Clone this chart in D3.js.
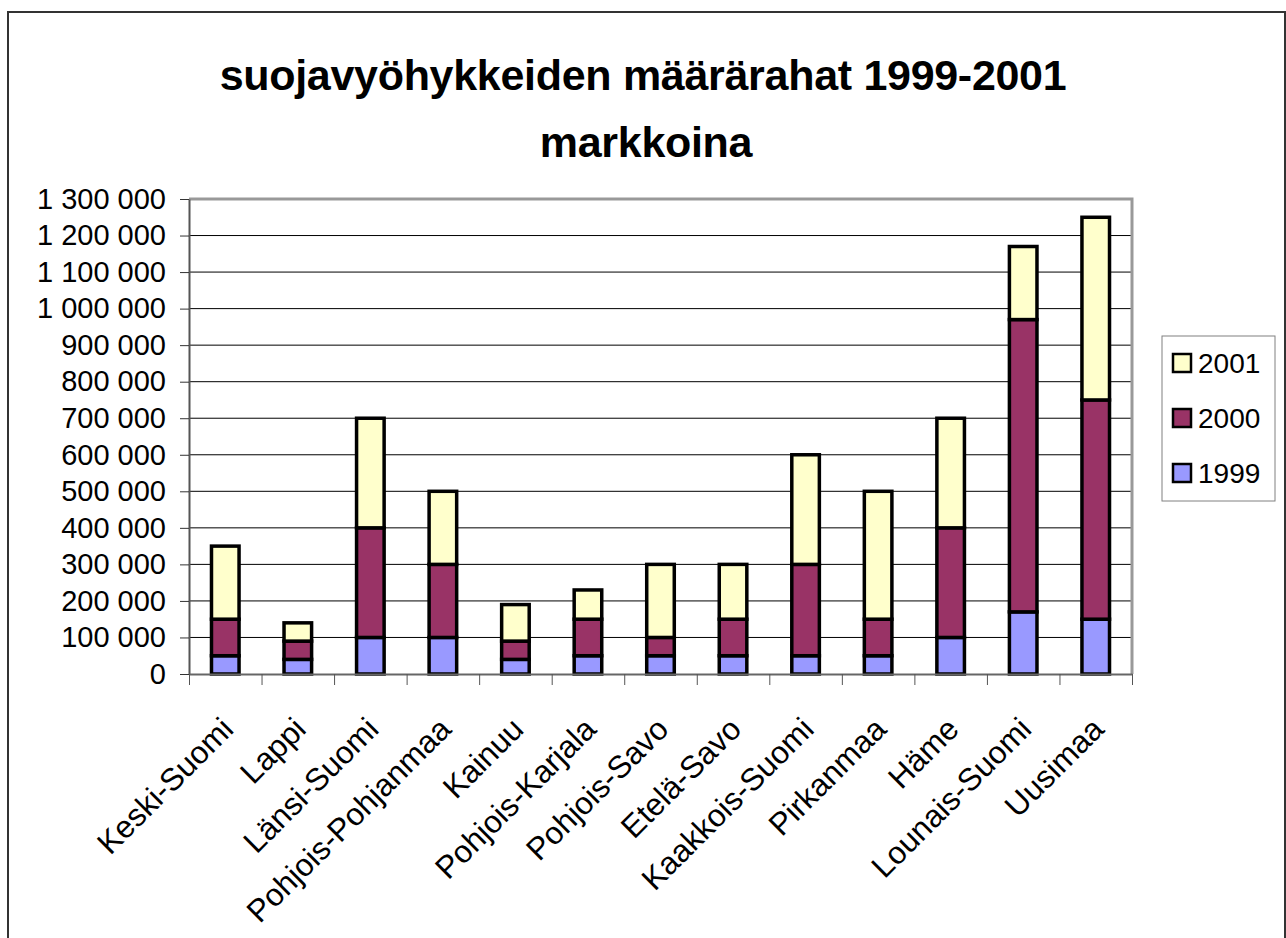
<!DOCTYPE html>
<html>
<head>
<meta charset="utf-8">
<script src="https://cdn.jsdelivr.net/npm/d3@7"></script>
<style>
  body { margin: 0; background: #fff; }
  text { font-family: "Liberation Sans", Arial, sans-serif; }
</style>
</head>
<body>
<svg id="chart"></svg>
<script>
// data
const regions = ["Keski-Suomi", "Lappi", "Länsi-Suomi", "Pohjois-Pohjanmaa", "Kainuu", "Pohjois-Karjala",
                 "Pohjois-Savo", "Etelä-Savo", "Kaakkois-Suomi", "Pirkanmaa", "Häme", "Lounais-Suomi", "Uusimaa"];
const years = ["1999", "2000", "2001"];
const v1999 = [50000, 40000, 100000, 100000, 40000, 50000, 50000, 50000, 50000, 50000, 100000, 170000, 150000];
const v2000 = [100000, 50000, 300000, 200000, 50000, 100000, 50000, 100000, 250000, 100000, 300000, 800000, 600000];
const v2001 = [200000, 50000, 300000, 200000, 100000, 80000, 200000, 150000, 300000, 350000, 300000, 200000, 500000];
const yTicks = [0, 100000, 200000, 300000, 400000, 500000, 600000, 700000, 800000, 900000,
                1000000, 1100000, 1200000, 1300000];
const colors = ["#9999FF", "#993366", "#FFFFCC"];

const width = 1286;
const height = 938;
const marginTop = 199;
const marginBottom = 264;   // y of zero line = 674
const marginLeft = 189;
const marginRight = 154;    // plot right edge = 1132

const svg = d3.select("#chart")
    .attr("width", width)
    .attr("height", height);

svg.append("rect").attr("width", width).attr("height", height).attr("fill", "#fff");

// chart area border
svg.append("rect")
    .attr("x", 8).attr("y", 12)
    .attr("width", 1277).attr("height", 940)
    .attr("fill", "none")
    .attr("stroke", "#333")
    .attr("stroke-width", 2);

// title
const title = svg.append("text")
    .attr("text-anchor", "middle")
    .attr("font-weight", "bold")
    .attr("font-size", 43)
    .attr("letter-spacing", -0.3);
title.append("tspan").attr("x", 643).attr("y", 90).text("suojavyöhykkeiden määrärahat 1999-2001");
title.append("tspan").attr("x", 646).attr("y", 157).text("markkoina");

const table = regions.map((r, i) => ({ region: r, "1999": v1999[i], "2000": v2000[i], "2001": v2001[i] }));
const series = d3.stack().keys(years)(table);

const x = d3.scaleBand()
    .domain(regions)
    .range([marginLeft, width - marginRight])
    .paddingInner(0.62)
    .paddingOuter(0.31);

const xEdge = d3.scaleLinear()
    .domain([0, regions.length])
    .range([marginLeft, width - marginRight]);

const y = d3.scaleLinear()
    .domain([0, 1300000])
    .range([height - marginBottom, marginTop]);

// gridlines
svg.append("g")
    .selectAll("line")
    .data(yTicks.filter(d => d > 0 && d < 1300000))
    .join("line")
    .attr("x1", marginLeft).attr("x2", width - marginRight)
    .attr("y1", d => y(d)).attr("y2", d => y(d))
    .attr("stroke", "#000")
    .attr("stroke-width", 1);

// plot area border (top & right)
svg.append("path")
    .attr("d", `M${marginLeft},${y(1300000)}H${width - marginRight}V${y(0)}`)
    .attr("fill", "none")
    .attr("stroke", "#999")
    .attr("stroke-width", 3);

// bars
svg.append("g")
    .selectAll("g")
    .data(series)
    .join("g")
    .attr("fill", (d, i) => colors[i])
    .selectAll("rect")
    .data(d => d)
    .join("rect")
    .attr("x", d => x(d.data.region))
    .attr("y", d => y(d[1]))
    .attr("width", x.bandwidth())
    .attr("height", d => y(d[0]) - y(d[1]))
    .attr("stroke", "#000")
    .attr("stroke-width", 3.5);

// y axis
const fmt = d3.formatLocale({ decimal: ",", thousands: "\u00a0", grouping: [3], currency: ["", ""] }).format(",d");
const yAxis = svg.append("g")
    .attr("transform", `translate(${marginLeft},0)`)
    .call(d3.axisLeft(y).tickValues(yTicks).tickFormat(fmt).tickSize(9).tickSizeOuter(0).tickPadding(14));
yAxis.select(".domain").attr("stroke", "#555").attr("stroke-width", 2);
yAxis.selectAll(".tick line").attr("stroke", "#333");
yAxis.selectAll("text")
    .attr("font-size", 29)
    .attr("fill", "#000")
    .attr("font-family", "'Liberation Sans', Arial, sans-serif");

// x axis: ticks between categories
const xAxis = svg.append("g")
    .attr("transform", `translate(0,${y(0)})`)
    .call(d3.axisBottom(xEdge).tickValues(d3.range(regions.length + 1)).tickFormat("").tickSize(11).tickSizeOuter(0));
xAxis.select(".domain").attr("stroke", "#666").attr("stroke-width", 2);
xAxis.selectAll(".tick line").attr("stroke", "#555");

// x labels, rotated 45 degrees, ending just right of the category centre
svg.append("g")
    .selectAll("text")
    .data(regions)
    .join("text")
    .attr("transform", d => `translate(${x(d) + x.bandwidth() / 2 + 10},731) rotate(-45)`)
    .attr("text-anchor", "end")
    .attr("font-size", 31.5)
    .attr("fill", "#000")
    .text(d => d);

// legend
const legend = svg.append("g");
legend.append("rect")
    .attr("x", 1162).attr("y", 336)
    .attr("width", 113).attr("height", 165)
    .attr("fill", "#fff")
    .attr("stroke", "#808080")
    .attr("stroke-width", 1);
const legendItems = legend.selectAll("g")
    .data(years.slice().reverse())
    .join("g")
    .attr("transform", (d, i) => `translate(1173,${363 + i * 55})`);
legendItems.append("rect")
    .attr("x", 0).attr("y", -9)
    .attr("width", 18).attr("height", 18)
    .attr("fill", d => colors[years.indexOf(d)])
    .attr("stroke", "#000")
    .attr("stroke-width", 2.5);
legendItems.append("text")
    .attr("x", 25).attr("y", 10)
    .attr("font-size", 28)
    .attr("fill", "#000")
    .text(d => d);
</script>
</body>
</html>
